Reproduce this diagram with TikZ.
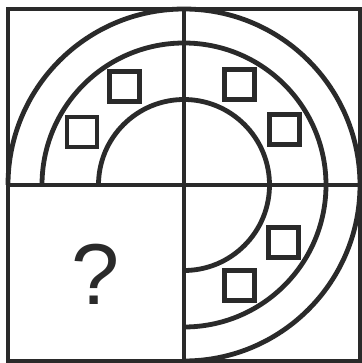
\documentclass[tikz,border=0pt]{standalone}
\usepackage{fontspec}
\setmainfont{Liberation Sans}
\usepackage{tikz}
\usepackage{xcolor}

\definecolor{ink}{HTML}{2A2A2A}

\begin{document}
\begin{tikzpicture}[x=0.05cm, y=0.05cm, line width=0.24cm, draw=ink,
		box/.style={draw=ink, line width=0.23cm, minimum size=1.5cm, inner sep=0pt}]
				\useasboundingbox (-184,-178) rectangle (178,185);
				
				% Outer frame and cross
				\draw (-176,-176) rectangle (176,176);
				\draw (0,-176) -- (0,176);
				\draw (-176,0) -- (176,0);
				
				% Three arcs, three quarters
				\draw (-176,0) arc[start angle=180, end angle=-90, radius=176];
				\draw (-142,0) arc[start angle=180, end angle=-90, radius=142];
				\draw (-85.5,0) arc[start angle=180, end angle=-90, radius=85.5];
				
				% Small squares between the inner arcs
				\node[box] (tl1) at (121:115) {};
				\node[box] (tl2) at (152.5:115) {};
				\node[box] (tr1) at (61:115) {};
				\node[box] (tr2) at (29:115) {};
				\node[box] (br1) at (-30:115) {};
				\node[box] (br2) at (-61:115) {};
				
				% Missing quarter
				\node[text=ink, font=\fontsize{123}{123}\selectfont] (ask) at (-88,-89) {?};
			\end{tikzpicture}
\end{document}
